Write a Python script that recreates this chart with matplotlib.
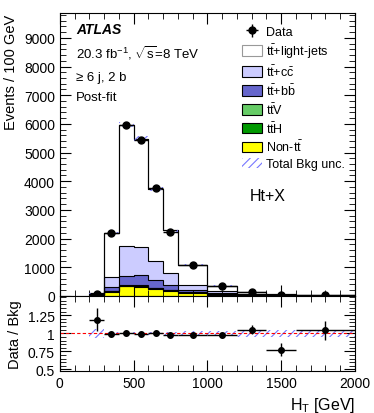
import numpy as np
import matplotlib
matplotlib.use("Agg")
import matplotlib.pyplot as plt
from matplotlib.patches import Patch
from matplotlib.ticker import MultipleLocator

plt.rcParams['font.family'] = ['Liberation Sans', 'DejaVu Sans']
plt.rcParams['mathtext.fontset'] = 'custom'
plt.rcParams['mathtext.rm'] = 'Liberation Sans'
plt.rcParams['mathtext.it'] = 'Liberation Sans:italic'
plt.rcParams['hatch.linewidth'] = 0.8

# bin edges in HT [GeV]
edges = [200, 300, 400, 500, 600, 700, 800, 1000, 1200, 1400, 1600, 2000]

# events / 100 GeV
non_tt = [12, 150, 330, 320, 250, 180, 110, 45, 18, 6, 2]
tth = [1, 8, 18, 20, 16, 11, 7, 4, 2, 1, 0.3]
ttv = [1, 10, 24, 25, 20, 15, 10, 5, 2, 1, 0.3]
ttbb = [6, 132, 318, 349, 255, 163, 90, 36, 13, 4, 1.4]
ttcc = [15, 345, 1058, 1000, 677, 424, 173, 70, 25, 8, 3]
ttlight = [50, 1555, 4222, 3766, 2502, 1487, 690, 200, 70, 30, 8]

data = [80, 2200, 5970, 5450, 3760, 2240, 1060, 356, 138, 40, 15]
data_err = [9, 47, 77, 74, 61, 47, 23, 13, 8, 4.5, 2]

# ratio panel
ratio = [1.19, 0.995, 1.0, 0.986, 1.01, 0.977, 0.977, 0.977, 1.05, 0.77, 1.04]
ratio_err = [0.16, 0.01, 0.01, 0.01, 0.01, 0.015, 0.015, 0.02, 0.06, 0.09, 0.13]
band = [0.06, 0.02, 0.015, 0.015, 0.02, 0.02, 0.03, 0.035, 0.045, 0.05, 0.05]

edges = np.array(edges, dtype=float)
centers = 0.5 * (edges[:-1] + edges[1:])
halfw = 0.5 * (edges[1:] - edges[:-1])

comps = [
    (non_tt, '#ffff00', r'Non-$\mathrm{t\bar{t}}$'),
    (tth, '#009900', r'$\mathrm{t\bar{t}H}$'),
    (ttv, '#66cc66', r'$\mathrm{t\bar{t}V}$'),
    (ttbb, '#6666cc', r'$\mathrm{t\bar{t}}$+$\mathrm{b\bar{b}}$'),
    (ttcc, '#ccccff', r'$\mathrm{t\bar{t}}$+$\mathrm{c\bar{c}}$'),
    (ttlight, '#ffffff', r'$\mathrm{t\bar{t}}$+light-jets'),
]

fig = plt.figure(figsize=(3.74, 4.14), dpi=100)
ax = fig.add_axes([0.160, 0.283, 0.789, 0.682])
rax = fig.add_axes([0.160, 0.102, 0.789, 0.181])

bottom = np.zeros(len(centers))
for vals, col, lab in comps:
    vals = np.array(vals, dtype=float)
    top = bottom + vals
    ax.stairs(top, edges, baseline=bottom, fill=True, color=col, zorder=1)
    ax.stairs(top, edges, baseline=None, color='black', lw=0.8, zorder=2)
    bottom = top
total = bottom
ax.stairs(total, edges, baseline=0, color='black', lw=0.8, zorder=2)

# total background uncertainty
band = np.array(band)
ax.stairs(total * (1 + band), edges, baseline=total * (1 - band), fill=True,
          facecolor='none', edgecolor='#7777ff', hatch='////', lw=0, zorder=3)

ax.errorbar(centers, data, xerr=halfw, yerr=data_err, fmt='o', color='black',
            ms=5, lw=1, capsize=0, zorder=5)

ax.set_xlim(0, 2000)
ax.set_ylim(0, 9850)
ax.set_ylabel('Events / 100 GeV', fontsize=10.5, loc='top')
ax.yaxis.set_major_locator(MultipleLocator(1000))
ax.yaxis.set_minor_locator(MultipleLocator(200))
ax.xaxis.set_major_locator(MultipleLocator(500))
ax.xaxis.set_minor_locator(MultipleLocator(100))
ax.tick_params(labelbottom=False)

ax.text(0.055, 0.945, 'ATLAS', transform=ax.transAxes, fontsize=10,
        fontweight='bold', fontstyle='italic', va='center')
ax.text(0.055, 0.865, r'20.3 fb$^{-1}$, $\sqrt{\mathrm{s}}$=8 TeV',
        transform=ax.transAxes, fontsize=9.5, va='center')
ax.text(0.055, 0.775, '\u2265 6 j, 2 b', transform=ax.transAxes,
        fontsize=9.5, va='center')
ax.text(0.055, 0.705, 'Post-fit', transform=ax.transAxes, fontsize=9.5,
        va='center')
ax.text(0.645, 0.355, 'Ht+X', transform=ax.transAxes, fontsize=11.5,
        va='center')

handles = [
    ax.errorbar([], [], yerr=[], xerr=[], fmt='o', color='black', ms=5, lw=1),
]
labels = ['Data']
for vals, col, lab in comps[::-1]:
    ec = '#999999' if col == '#ffffff' else 'black'
    handles.append(Patch(facecolor=col, edgecolor=ec, lw=0.8))
    labels.append(lab)
handles.append(Patch(facecolor='none', edgecolor='#7777ff', hatch='////', lw=0))
labels.append('Total Bkg unc.')
ax.legend(handles, labels, loc='upper left', bbox_to_anchor=(0.6, 0.975),
          frameon=False, fontsize=9, handlelength=1.6, handleheight=0.9,
          labelspacing=0.28, handletextpad=0.35, borderaxespad=0)

# ratio panel
rax.stairs(1 + band, edges, baseline=1 - band, fill=True, facecolor='none',
           edgecolor='#7777ff', hatch='////', lw=0, zorder=1)
rax.axhline(1, color='red', ls=(0, (3, 2)), lw=0.8, zorder=2)
rax.errorbar(centers, ratio, xerr=halfw, yerr=ratio_err, fmt='o', color='black',
             ms=4, lw=1, capsize=0, zorder=5)
rax.set_xlim(0, 2000)
rax.set_ylim(0.48, 1.52)
rax.set_yticks([0.5, 0.75, 1, 1.25])
rax.set_yticklabels(['0.5', '0.75', '1', '1.25'])
rax.yaxis.set_minor_locator(MultipleLocator(0.05))
rax.xaxis.set_major_locator(MultipleLocator(500))
rax.xaxis.set_minor_locator(MultipleLocator(100))
rax.set_ylabel('Data / Bkg', fontsize=10.5)
rax.set_xlabel('H$_\\mathrm{T}$ [GeV]', fontsize=11.5, loc='right')

for a in (ax, rax):
    a.tick_params(which='both', direction='in', top=True, right=True,
                  labelsize=10)
    a.tick_params(which='major', length=8)
    a.tick_params(which='minor', length=4)
    for s in a.spines.values():
        s.set_linewidth(0.8)

fig.align_ylabels([ax, rax])
fig.savefig('out.png', dpi=100)
